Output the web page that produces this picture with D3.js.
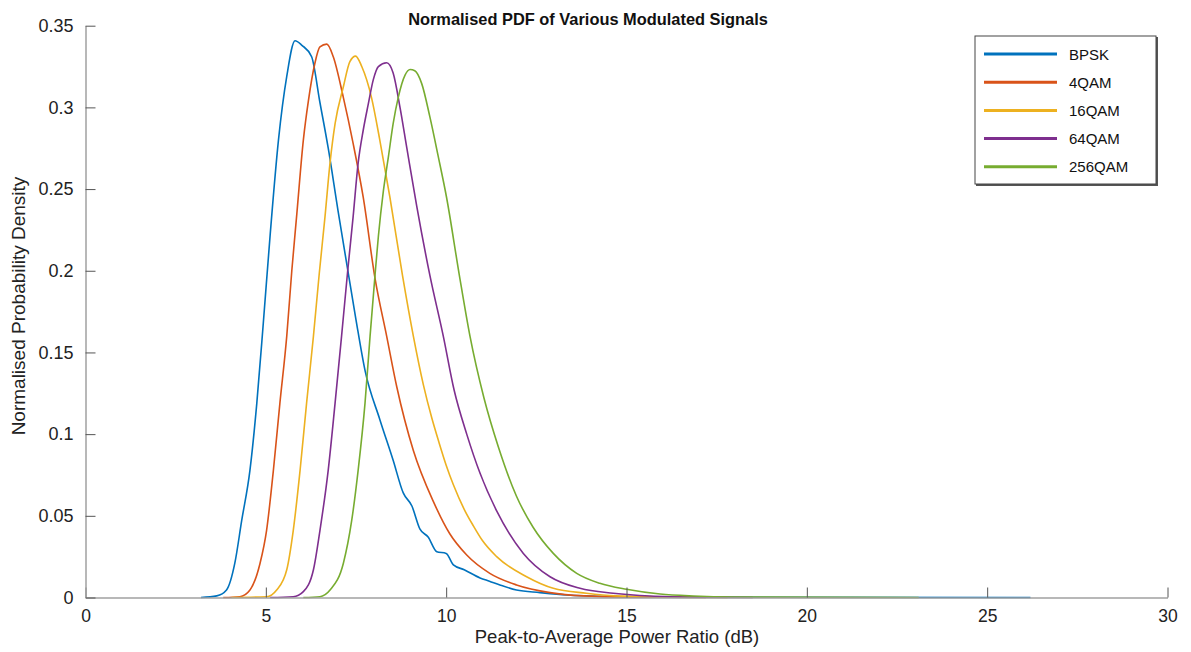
<!DOCTYPE html>
<html><head><meta charset="utf-8">
<script src="https://cdn.jsdelivr.net/npm/d3@7"></script>
<style>body{margin:0;background:#fff}svg{display:block}text{font-family:Arial,"Liberation Sans",sans-serif}</style>
</head><body><svg id="c" width="1191" height="652"></svg>
<script>
const seriesNames = ["BPSK","4QAM","16QAM","64QAM","256QAM"];
const seriesColors = ["#0072BD","#D95319","#EDB120","#7E2F8E","#77AC30"];
const xTicks = [0,5,10,15,20,25,30];
const yTicks = [0,0.05,0.1,0.15,0.2,0.25,0.3,0.35];
const yTickLabels = ["0","0.05","0.1","0.15","0.2","0.25","0.3","0.35"];

const bpskX = [3.2,3.64,3.91,4.14,4.33,4.56,4.75,4.93,5.12,5.35,5.58,5.81,6.0,6.27,6.5,6.73,7.0,7.29,7.5,7.75,8.16,8.53,8.81,9.05,9.27,9.5,9.74,10.0,10.2,10.5,10.94,11.2,11.49,11.95,12.6,13.34,14.7,16,26.2];
const bpskY = [0,0.001,0.0046,0.021,0.047,0.078,0.119,0.168,0.222,0.28,0.319,0.3408,0.338,0.331,0.303,0.275,0.237,0.198,0.17,0.139,0.109,0.084,0.064,0.056,0.042,0.037,0.028,0.027,0.020,0.017,0.012,0.010,0.0077,0.0046,0.003,0.0015,0.0005,0.0002,0];
const qam4X = [3.82,4.28,4.56,4.84,5.02,5.21,5.39,5.58,5.72,5.86,6.04,6.18,6.36,6.5,6.69,6.87,7.15,7.42,7.70,8.03,8.35,8.63,9.09,9.64,10.1,10.57,11.21,11.95,12.88,13.8,15,17.2];
const qam4Y = [0,0.0005,0.0046,0.021,0.041,0.078,0.119,0.16,0.2,0.235,0.28,0.304,0.327,0.337,0.3387,0.331,0.306,0.278,0.245,0.195,0.16,0.129,0.090,0.059,0.039,0.026,0.0148,0.0077,0.003,0.001,0.0003,0];
const qam16X = [4.05,5.02,5.30,5.58,5.76,5.95,6.13,6.32,6.48,6.64,6.78,6.92,7.15,7.33,7.49,7.66,7.93,8.16,8.44,8.79,9.09,9.37,9.6,9.8,10.0,10.2,10.5,10.75,11.0,11.4,12.23,12.97,13.89,14.7,16,17.8];
const qam16Y = [0,0.0005,0.0046,0.017,0.041,0.078,0.119,0.16,0.198,0.233,0.266,0.29,0.3126,0.328,0.3314,0.325,0.306,0.28,0.245,0.197,0.16,0.130,0.110,0.095,0.081,0.069,0.054,0.044,0.035,0.025,0.0127,0.0056,0.0026,0.001,0.0003,0];
const qam64X = [5.12,5.76,6.04,6.32,6.50,6.73,6.92,7.10,7.27,7.42,7.56,7.70,7.84,7.98,8.12,8.35,8.53,8.72,8.91,9.18,9.55,9.92,10.22,10.57,10.94,11.4,12.14,12.88,13.71,14.63,15.65,17,18.5];
const qam64Y = [0,0.0005,0.0036,0.017,0.041,0.078,0.119,0.16,0.2,0.233,0.266,0.286,0.302,0.317,0.325,0.3273,0.321,0.300,0.275,0.240,0.197,0.16,0.127,0.1,0.076,0.053,0.027,0.0127,0.0056,0.0026,0.0009,0.0002,0];
const qam256X = [6.04,6.50,6.78,7.15,7.38,7.56,7.75,7.89,8.03,8.12,8.26,8.40,8.53,8.67,8.86,9.0,9.13,9.32,9.55,9.78,10.01,10.36,10.66,11.05,11.45,11.95,12.41,12.97,13.62,14.26,15.0,15.93,16.85,18,23.1];
const qam256Y = [0,0.0005,0.0046,0.021,0.047,0.078,0.119,0.16,0.198,0.221,0.249,0.27,0.29,0.306,0.3198,0.3232,0.3224,0.3147,0.294,0.27,0.245,0.198,0.16,0.122,0.092,0.062,0.043,0.027,0.0148,0.0087,0.005,0.0021,0.0009,0.0003,0];

const seriesX = [bpskX,qam4X,qam16X,qam64X,qam256X];
const seriesY = [bpskY,qam4Y,qam16Y,qam64Y,qam256Y];

const svg = d3.select("#c");
const L = 85.5, R = 1167.5, T = 25.7, B = 597.5;
const x = d3.scaleLinear().domain([0,30]).range([L,R]);
const y = d3.scaleLinear().domain([0,0.35]).range([B,T]);

// lines
const line = d3.line().x(d=>x(d[0])).y(d=>y(d[1])).curve(d3.curveMonotoneX);
seriesNames.forEach((n,i)=>{
  const pts = seriesX[i].map((v,j)=>[v,seriesY[i][j]]);
  svg.append("path").attr("d",line(pts)).attr("fill","none")
    .attr("stroke",seriesColors[i]).attr("stroke-width",1.6).attr("stroke-linejoin","round");
});

// axes
const axisCol = "#a0a0a0";
const xAxis = d3.axisBottom(x).tickValues(xTicks).tickSizeInner(-10).tickSizeOuter(0).tickPadding(12).tickFormat(d3.format("d"));
const gx = svg.append("g").attr("transform",`translate(0,${B})`).call(xAxis);
gx.select(".domain").attr("stroke",axisCol).attr("stroke-width",1.5);
gx.selectAll(".tick line").attr("stroke","#555").attr("stroke-width",1);
gx.selectAll(".tick text").attr("font-size",17.5).attr("fill","#222").attr("font-family","Arial, Liberation Sans, sans-serif");

const yAxis = d3.axisLeft(y).tickValues(yTicks).tickSizeInner(-10).tickSizeOuter(0).tickPadding(12).tickFormat((d,i)=>yTickLabels[i]);
const gy = svg.append("g").attr("transform",`translate(${L},0)`).call(yAxis);
gy.select(".domain").attr("stroke",axisCol).attr("stroke-width",1.5);
gy.selectAll(".tick line").attr("stroke","#555").attr("stroke-width",1);
gy.selectAll(".tick text").attr("font-size",18).attr("fill","#222").attr("font-family","Arial, Liberation Sans, sans-serif");

// title & labels
svg.append("text").attr("x",588).attr("y",25).attr("text-anchor","middle")
  .attr("font-size",16.4).attr("font-weight","bold").attr("fill","#111").text("Normalised PDF of Various Modulated Signals");
svg.append("text").attr("x",617).attr("y",643).attr("text-anchor","middle")
  .attr("font-size",18.5).attr("fill","#222").text("Peak-to-Average Power Ratio (dB)");
svg.append("text").attr("transform",`translate(25,306) rotate(-90)`).attr("text-anchor","middle")
  .attr("font-size",19).attr("fill","#222").text("Normalised Probability Density");

// legend
const lg = svg.append("g");
lg.append("rect").attr("x",976).attr("y",37).attr("width",182).attr("height",149).attr("fill","#555");
lg.append("rect").attr("x",975).attr("y",36).attr("width",181).attr("height",148).attr("fill","#fff").attr("stroke","#444").attr("stroke-width",1);
seriesNames.forEach((n,i)=>{
  const yy = 54 + i*28.2;
  lg.append("line").attr("x1",984).attr("x2",1057).attr("y1",yy).attr("y2",yy)
    .attr("stroke",seriesColors[i]).attr("stroke-width",3);
  lg.append("text").attr("x",1069).attr("y",yy+5.5).attr("font-size",15).attr("fill","#111").text(n);
});
</script></body></html>
